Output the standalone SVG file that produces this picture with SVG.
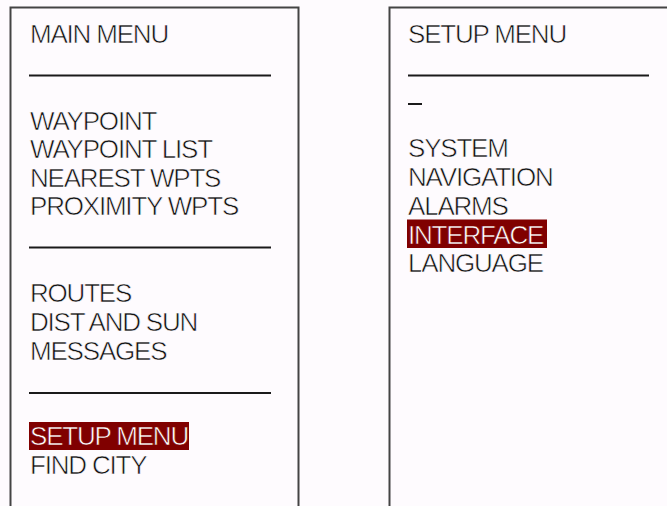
<svg xmlns="http://www.w3.org/2000/svg" width="667" height="506" viewBox="0 0 667 506">
  <style>
    .frame { fill: none; stroke: #444444; stroke-width: 2; }
    .rule { stroke: #1a1a1a; stroke-width: 2; }
    .t { font-family: "Liberation Sans", Arial, sans-serif; font-size: 26px; fill: #111111; letter-spacing: -1.2px; stroke: #fefbfe; stroke-width: 0.6px; }
    .hl { fill: #800000; }
    .ht { fill: #ffffff; stroke: #800000; }
  </style>
  <rect x="0" y="0" width="667" height="506" fill="#fefbfe"/>

  <g id="main-menu">
    <path class="frame" d="M10.5 520 V7.5 H298.5 V520"/>
    <text class="t" x="30" y="43">MAIN MENU</text>
    <line class="rule" x1="29" y1="75.5" x2="271" y2="75.5"/>
    <text class="t" x="30" y="130">WAYPOINT</text>
    <text class="t" x="30" y="158">WAYPOINT LIST</text>
    <text class="t" x="30" y="186.5">NEAREST WPTS</text>
    <text class="t" x="30" y="215">PROXIMITY WPTS</text>
    <line class="rule" x1="29" y1="247.5" x2="271" y2="247.5"/>
    <text class="t" x="30" y="302">ROUTES</text>
    <text class="t" x="30" y="331">DIST AND SUN</text>
    <text class="t" x="30" y="360">MESSAGES</text>
    <line class="rule" x1="29" y1="393" x2="271" y2="393"/>
    <rect class="hl" x="29" y="422" width="160" height="28"/>
    <text class="t ht" x="30" y="444.5">SETUP MENU</text>
    <text class="t" x="30" y="474">FIND CITY</text>
  </g>

  <g id="setup-menu">
    <path class="frame" d="M389.5 520 V7.5 H680"/>
    <text class="t" x="408" y="43">SETUP MENU</text>
    <line class="rule" x1="408" y1="75.5" x2="649" y2="75.5"/>
    <line class="rule" x1="408" y1="104" x2="422" y2="104"/>
    <text class="t" x="408" y="157">SYSTEM</text>
    <text class="t" x="408" y="186">NAVIGATION</text>
    <text class="t" x="408" y="215">ALARMS</text>
    <rect class="hl" x="407" y="219.5" width="140" height="28.5"/>
    <text class="t ht" x="408" y="243.5">INTERFACE</text>
    <text class="t" x="408" y="272">LANGUAGE</text>
  </g>

  <g id="connectors"></g>
</svg>
